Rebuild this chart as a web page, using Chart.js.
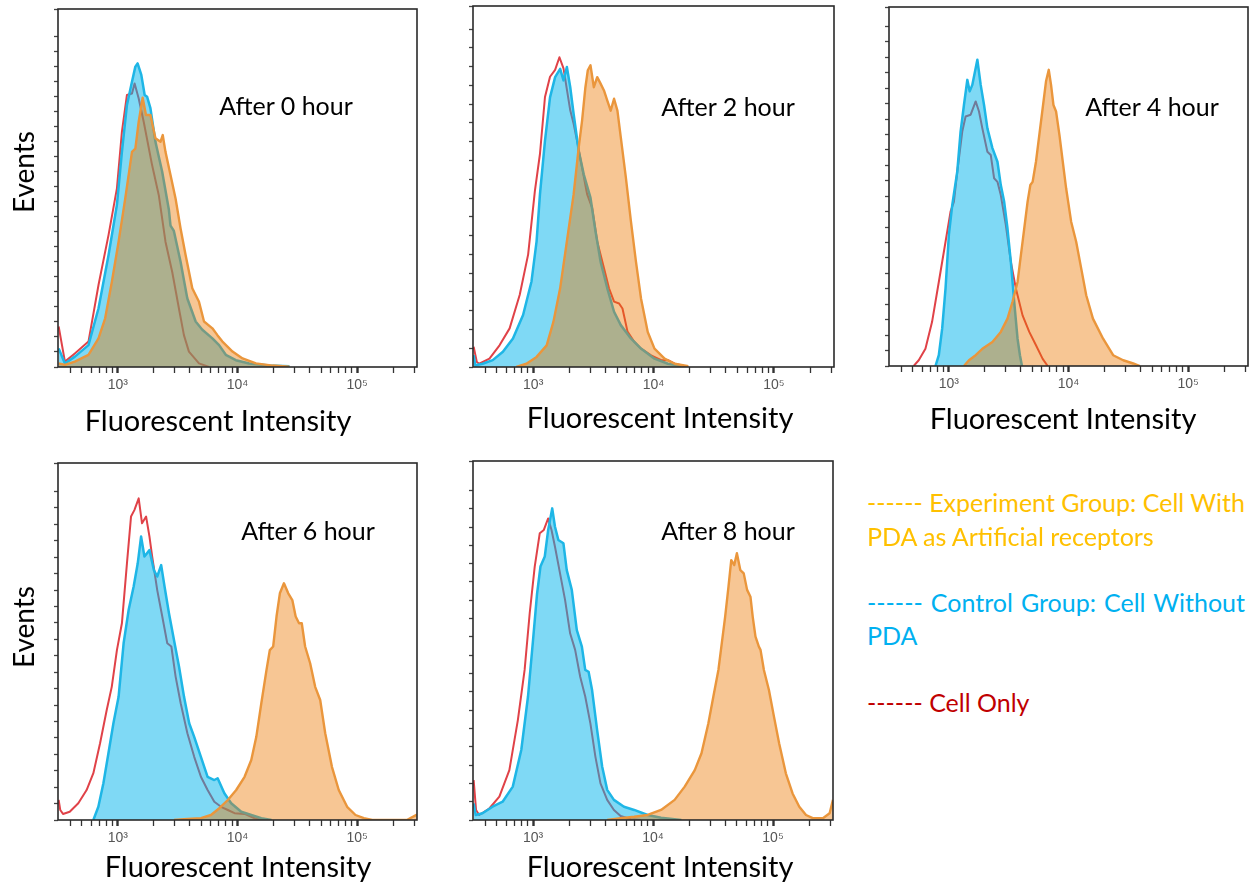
<!DOCTYPE html>
<html>
<head>
<meta charset="utf-8">
<script src="https://cdn.jsdelivr.net/npm/chart.js@4.4.1/dist/chart.umd.min.js"></script>
<style>
  body { margin: 0; background: #fff; }
  #page { position: relative; width: 1255px; height: 884px; overflow: hidden; font-family: Lato, "Open Sans", sans-serif; }
  #page canvas { position: absolute; }
  .lbl { position: absolute; white-space: nowrap; color: #000; line-height: 1; transform: translate(-50%, -50%); }
  .ev { transform: translate(-50%, -50%) rotate(-90deg); }
  .leg { position: absolute; white-space: nowrap; line-height: 1; font-size: 25px; }
  .just { text-align: justify; text-align-last: justify; }
</style>
</head>
<body>
<div id="page"></div>
<script>
// ---------- DATA (fluorescent intensity vs. events, % of axis height) ----------
const panelTitles = ["After 0 hour", "After 2 hour", "After 4 hour", "After 6 hour", "After 8 hour"];
const seriesNames = ["Experiment Group: Cell With PDA as Artificial receptors", "Control Group: Cell Without PDA", "Cell Only"];
const xMin = 316, xMax = 316228;
const xMajorTicks = [1000, 10000, 100000];
const xMajorLabels = ["10\u00b3", "10\u2074", "10\u2075"];
const xMinorTicks = [400, 500, 600, 700, 800, 900, 2000, 3000, 4000, 5000, 6000, 7000, 8000, 9000,
  20000, 30000, 40000, 50000, 60000, 70000, 80000, 90000, 200000, 300000];
const eventTickStep = [4.2, 5.2, 4.3, 4.6, 5.1];

// After 0 hour
const h0CellOnlyX = [320, 361, 437, 568, 689, 836, 982, 1081, 1191, 1312, 1380, 1493, 1644, 1932, 2198, 2500, 2844, 3236, 3565, 3926, 4764, 5781];
const h0CellOnlyY = [11.3, 1.5, 3.8, 7.1, 22.9, 36.9, 49.9, 65.7, 76, 76.4, 79.2, 75, 68.5, 56.4, 48, 35, 26.6, 16.4, 8.9, 4.3, 1, 0];
const h0ControlX = [320, 361, 437, 568, 689, 836, 982, 1081, 1191, 1312, 1400, 1462, 1570, 1675, 1754, 1871, 2061, 2344, 2667, 2754, 2938, 3342, 3802, 4467, 5082, 6166, 7015, 7980, 9683, 12531, 18450, 27164];
const h0ControlY = [5.2, 1, 2.9, 6.1, 16.4, 31.3, 45.3, 60.1, 73.2, 79.7, 83.9, 84.8, 81.6, 76, 75.5, 72.3, 62.9, 54.6, 44, 39.5, 38, 29.4, 19.2, 12.7, 10.4, 8, 6.1, 3.4, 1.9, 1, 0.4, 0.2];
const h0ExperimentX = [320, 361, 437, 568, 689, 783, 891, 1014, 1153, 1312, 1400, 1493, 1611, 1718, 1871, 2061, 2270, 2371, 2500, 2754, 3034, 3342, 3681, 4188, 4467, 4764, 5248, 6166, 6792, 7482, 9078, 11015, 14256, 19679, 27164];
const h0ExperimentY = [1, 0.6, 1.5, 3.4, 8, 13.6, 23.8, 35, 47.1, 60.1, 61, 68.5, 75.2, 70.4, 70.4, 63.9, 62.9, 64.8, 60.1, 53.6, 47.1, 38.7, 31.3, 22, 20.1, 18.2, 12.7, 10.8, 8.9, 7.1, 4.3, 2.4, 1, 0.4, 0.1];

// After 2 hour
const h2CellOnlyX = [320, 340, 356, 433, 525, 637, 773, 908, 1033, 1138, 1253, 1380, 1521, 1652, 1786, 2032, 2168, 2312, 2547, 2805, 3090, 3404, 3873, 4266, 4699, 5176, 5521, 6081, 6918, 7870, 9550, 11588, 13183, 14997, 19454];
const h2CellOnlyY = [5.6, 1.4, 0.9, 2.3, 6, 10.7, 20, 31.2, 48.8, 59, 74.8, 80.4, 82.3, 85.8, 82.7, 71.1, 67.4, 62.7, 55.3, 47.9, 44.1, 34.8, 27.4, 21.8, 18.1, 17.6, 16.2, 9.8, 7, 5.1, 3.2, 1.9, 1.9, 0.9, 0];
const h2ControlX = [320, 330, 380, 461, 560, 679, 824, 968, 1067, 1138, 1253, 1380, 1521, 1675, 1786, 1905, 2032, 2168, 2388, 2630, 2992, 3296, 3631, 4130, 4699, 5346, 6486, 7870, 10186, 13183, 17061];
const h2ControlY = [3.3, 0.5, 0.9, 1.9, 4.2, 7.9, 14.4, 23.7, 34.8, 47.8, 62.7, 74.7, 80.3, 82.6, 79.4, 83.1, 77.5, 70.1, 59.9, 53.4, 46.9, 37.6, 29.2, 21.8, 15.3, 11.6, 7.9, 5.1, 2.3, 0.9, 0.3];
const h2ExperimentX = [724, 879, 1067, 1294, 1472, 1675, 1905, 2168, 2388, 2547, 2716, 2844, 2992, 3192, 3404, 3631, 3873, 4130, 4406, 4699, 5012, 5346, 5888, 6486, 7145, 7870, 8954, 10186, 12359, 14997, 19454];
const h2ExperimentY = [0, 0.9, 2.8, 6, 12.5, 21.8, 34.8, 47.8, 60.8, 68.2, 77.5, 82.2, 83.6, 77.5, 80.3, 78.5, 76.6, 73.8, 71, 74.3, 71, 63.6, 52.5, 40.4, 29.2, 19, 9.7, 5.1, 2.3, 0.9, 0.2];

// After 4 hour
const h4CellOnlyX = [508, 560, 637, 724, 824, 938, 1033, 1102, 1175, 1294, 1380, 1521, 1675, 1786, 1905, 2099, 2239, 2388, 2547, 2716, 2992, 3296, 3631, 4130, 4699, 5346, 6081, 6699];
const h4CellOnlyY = [0, 1.6, 4.8, 12.3, 23.4, 34.6, 43, 45.8, 54.1, 65.3, 69.5, 70, 73.7, 70.9, 66.2, 59.7, 58.8, 52.3, 51.3, 47.6, 39.3, 29, 21.6, 14.1, 9.5, 5.8, 2, 0];
const h4ControlX = [773, 824, 879, 938, 1000, 1067, 1175, 1253, 1337, 1426, 1493, 1570, 1730, 1845, 1968, 2099, 2312, 2547, 2716, 2897, 3090, 3296, 3516, 3750, 3926, 4083];
const h4ControlY = [0, 3, 10.4, 21.6, 36.5, 44.8, 54.1, 65.3, 72.7, 79.7, 76.5, 78.3, 85.3, 78.3, 72.7, 66.2, 60.7, 56.9, 50.4, 45.8, 38.3, 29, 17.9, 7.6, 3, 0];
const h4ExperimentX = [1337, 1472, 1675, 1905, 2312, 2716, 3090, 3404, 3750, 3999, 4266, 4550, 4797, 5012, 5346, 5702, 6081, 6486, 6839, 7145, 7482, 7870, 8395, 8954, 9550, 10520, 11588, 12764, 14060, 15996, 19454, 23605, 28642, 34754, 39537];
const h4ExperimentY = [0, 1.6, 3, 4.8, 6.7, 9.5, 13.2, 17.9, 23.4, 30.9, 38.3, 45.8, 50.4, 51.3, 56.9, 64.4, 71.8, 79.3, 82.5, 78.3, 72.7, 70.9, 64.4, 56.9, 49.5, 40.2, 34.6, 27.2, 19.7, 13.2, 7.6, 3, 1.6, 0.7, 0];

// After 6 hour
const h6CellOnlyX = [320, 330, 348, 396, 467, 548, 624, 710, 807, 889, 982, 1081, 1191, 1288, 1374, 1493, 1592, 1722, 1837, 1936, 2133, 2350, 2588, 2799, 3041, 3350, 3811, 4345, 4943, 5623, 6397, 7278, 8299, 9441, 11455, 13900, 18030];
const h6CellOnlyY = [5.6, 2.8, 1.7, 2.3, 4.7, 8.4, 13.1, 21.5, 30.8, 37.3, 47.6, 55.1, 71.9, 85, 86.8, 90.1, 83.1, 85, 79.4, 73.8, 64.4, 57, 49.5, 48.6, 40.1, 32.7, 24.3, 17.7, 12.1, 8.4, 5.1, 3.7, 2.8, 1.9, 1.7, 0.5, 0];
const h6ControlX = [624, 687, 757, 834, 918, 1014, 1117, 1230, 1355, 1466, 1563, 1667, 1837, 2000, 2133, 2301, 2455, 2673, 2944, 3243, 3573, 3945, 4345, 4943, 5623, 6397, 6823, 7762, 8851, 10740, 13032, 15812, 19231];
const h6ControlY = [0, 3.7, 10.3, 18.7, 27.1, 34.5, 49.5, 58.8, 65.4, 71.9, 79.4, 73.8, 75.6, 70, 68.2, 71.4, 65.4, 57.9, 50.4, 43, 34.5, 27.1, 23.3, 17.7, 12.1, 11.2, 11.7, 7.5, 4.7, 2.3, 1.4, 0.5, 0];
const h6ExperimentX = [2944, 3811, 4943, 5998, 7047, 8299, 9750, 11455, 13032, 14355, 15812, 17458, 18621, 19860, 21184, 22594, 24434, 26546, 28708, 30620, 32659, 34435, 36728, 40458, 44566, 49091, 54075, 61518, 70146, 82414, 96828, 113763, 133660, 260000, 316000];
const h6ExperimentY = [0, 0.3, 0.5, 1.4, 3.3, 5.6, 8.4, 12.1, 16.8, 23.3, 32.7, 42, 47.6, 48.6, 57, 63.5, 66.3, 63.5, 61.6, 57, 55.1, 55.1, 48.6, 43.9, 37.3, 33.6, 24.3, 14.9, 8.4, 3.7, 1.4, 0.5, 0, 0, 1.5];

// After 8 hour
const h8CellOnlyX = [320, 335, 356, 432, 524, 635, 748, 851, 938, 1033, 1138, 1230, 1337, 1426, 1524, 1679, 1849, 2037, 2244, 2472, 2723, 3006, 3311, 3648, 4150, 4721, 5370, 6531, 7925];
const h8CellOnlyY = [11.1, 2.8, 1.4, 3.2, 6.5, 13.9, 27.9, 41.8, 57.6, 70.6, 79.9, 80.8, 84, 80.8, 76.1, 68.7, 61.3, 52, 47.4, 39.9, 34.4, 26.9, 17.6, 10.2, 5.6, 2.8, 1.1, 0.2, 0];
const h8ControlX = [320, 333, 379, 460, 558, 678, 798, 908, 1000, 1081, 1153, 1253, 1337, 1445, 1524, 1626, 1791, 1910, 2104, 2317, 2553, 2723, 2904, 3105, 3420, 3767, 4150, 4721, 5728, 6966, 9016, 11668, 17219];
const h8ControlY = [4.6, 1.4, 1.9, 3.7, 5.1, 9.3, 19.5, 34.4, 50.1, 63.1, 70.6, 73.4, 80.8, 86.8, 81.7, 78, 77.1, 69.6, 64.1, 52.9, 48.3, 41.8, 41.3, 36.2, 25.1, 14.9, 8.4, 5.6, 3.7, 2.8, 1.4, 0.6, 0];
const h8ExperimentX = [4150, 5370, 6966, 9016, 11668, 15136, 18365, 22284, 25351, 28907, 31842, 35075, 37411, 39902, 42560, 44875, 47534, 50003, 53456, 57016, 60814, 64863, 67764, 71450, 76208, 78705, 83946, 92470, 101859, 112460, 127938, 145546, 165577, 188365, 214289, 260615, 296483, 316000];
const h8ExperimentY = [0, 0.5, 0.9, 1.4, 2.8, 5.6, 9.3, 13.9, 18.6, 26.9, 34.4, 41.8, 49.2, 56.6, 65, 72.4, 71, 74.3, 69.6, 68.7, 64.1, 62.2, 56.6, 51.1, 48.3, 47.4, 41.8, 36.2, 28.8, 21.4, 13, 7.4, 3.7, 1.4, 0.5, 0.5, 1.9, 5.6];

// ---------- LAYOUT / STYLE ----------
const panelData = [
  [h0ExperimentX, h0ExperimentY, h0ControlX, h0ControlY, h0CellOnlyX, h0CellOnlyY],
  [h2ExperimentX, h2ExperimentY, h2ControlX, h2ControlY, h2CellOnlyX, h2CellOnlyY],
  [h4ExperimentX, h4ExperimentY, h4ControlX, h4ControlY, h4CellOnlyX, h4CellOnlyY],
  [h6ExperimentX, h6ExperimentY, h6ControlX, h6ControlY, h6CellOnlyX, h6CellOnlyY],
  [h8ExperimentX, h8ExperimentY, h8ControlX, h8ControlY, h8CellOnlyX, h8CellOnlyY]
];
const panelBoxes = [
  { left: 58, top: 9, w: 359, h: 358, title: [286, 105], xTitle: [218, 419] },
  { left: 473, top: 6, w: 361, h: 361, title: [728, 106], xTitle: [660, 416] },
  { left: 889, top: 7, w: 359, h: 359, title: [1152, 106], xTitle: [1063, 417] },
  { left: 58, top: 463, w: 359, h: 357, title: [308, 530], xTitle: [238, 865] },
  { left: 473, top: 461, w: 360, h: 359, title: [728, 530], xTitle: [660, 865] }
];
const eventsLabelPos = [[23, 172], [23, 627]];
const styles = [
  { line: "rgb(234,150,60)", fill: "rgba(235,120,0,0.42)", width: 2.4 },
  { line: "rgb(30,182,230)", fill: "rgba(0,180,235,0.5)", width: 2.5 },
  { line: "rgb(224,66,72)", fill: null, width: 2 }
];

const xTickValues = xMinorTicks.concat(xMajorTicks).sort((a, b) => a - b);
const majorLabelOf = v => { const i = xMajorTicks.indexOf(v); return i >= 0 ? xMajorLabels[i] : ""; };

const framePlugin = {
  id: "frame",
  afterDatasetsDraw(chart) {
    const { ctx, chartArea: a } = chart;
    ctx.save();
    ctx.strokeStyle = "#2a2a2a";
    ctx.lineWidth = 1.6;
    ctx.strokeRect(a.left, a.top, a.right - a.left, a.bottom - a.top);
    ctx.restore();
  }
};

const page = document.getElementById("page");
const PADL = 30, PADT = 6, PADR = 6, PADB = 36;

panelBoxes.forEach((box, p) => {
  const cv = document.createElement("canvas");
  cv.width = box.w + PADL + PADR;
  cv.height = box.h + PADT + PADB;
  cv.style.left = (box.left - PADL) + "px";
  cv.style.top = (box.top - PADT) + "px";
  page.appendChild(cv);

  const d = panelData[p];
  const datasets = [0, 1, 2].map(s => ({
    label: seriesNames[s],
    data: d[2 * s].map((x, i) => ({ x: x, y: d[2 * s + 1][i] })),
    borderColor: styles[s].line,
    backgroundColor: styles[s].fill || "rgba(0,0,0,0)",
    borderWidth: styles[s].width,
    fill: styles[s].fill ? "origin" : false,
    pointRadius: 0,
    tension: 0,
    borderJoinStyle: "round"
  }));

  new Chart(cv, {
    type: "line",
    data: { datasets },
    options: {
      responsive: false,
      animation: false,
      devicePixelRatio: 1,
      events: [],
      layout: { padding: { left: 0, top: PADT, right: PADR, bottom: 0 } },
      plugins: { legend: { display: false }, tooltip: { enabled: false } },
      scales: {
        x: {
          type: "logarithmic",
          min: xMin, max: xMax,
          afterBuildTicks: s => { s.ticks = xTickValues.map(v => ({ value: v })); },
          afterFit: s => { s.height = PADB; },
          ticks: {
            autoSkip: false, maxRotation: 0, minRotation: 0, padding: 4,
            color: "#555",
            font: { family: "'Liberation Sans', Arial, sans-serif", size: 14 },
            callback: v => majorLabelOf(v)
          },
          grid: {
            drawOnChartArea: false, drawTicks: true, tickLength: 6,
            color: "#333",
            tickWidth: c => (c.tick && xMajorTicks.indexOf(c.tick.value) >= 0) ? 2.4 : 1.3
          },
          border: { display: false }
        },
        y: {
          type: "linear", min: 0, max: 100,
          afterFit: s => { s.width = PADL; },
          ticks: { display: false, stepSize: eventTickStep[p] },
          grid: { drawOnChartArea: false, drawTicks: true, tickLength: 4, color: "#444", tickWidth: 1.3 },
          border: { display: false }
        }
      }
    },
    plugins: [framePlugin]
  });

  const t = document.createElement("div");
  t.className = "lbl";
  t.style.left = box.title[0] + "px";
  t.style.top = box.title[1] + "px";
  t.style.fontSize = "25px";
  t.textContent = panelTitles[p];
  page.appendChild(t);

  const xt = document.createElement("div");
  xt.className = "lbl";
  xt.style.left = box.xTitle[0] + "px";
  xt.style.top = box.xTitle[1] + "px";
  xt.style.fontSize = "29px";
  xt.textContent = "Fluorescent Intensity";
  page.appendChild(xt);
});

eventsLabelPos.forEach(pos => {
  const e = document.createElement("div");
  e.className = "lbl ev";
  e.style.left = pos[0] + "px";
  e.style.top = pos[1] + "px";
  e.style.fontSize = "28px";
  e.textContent = "Events";
  page.appendChild(e);
});

const legendLines = [
  { text: "------ Experiment Group: Cell With", color: "#FFC000", y: 503, just: true },
  { text: "PDA as Artificial receptors", color: "#FFC000", y: 537, just: false },
  { text: "------ Control Group: Cell Without", color: "#00B0F0", y: 603, just: true },
  { text: "PDA", color: "#00B0F0", y: 636, just: false },
  { text: "------ Cell Only", color: "#C00000", y: 703, just: false }
];
legendLines.forEach(l => {
  const el = document.createElement("div");
  el.className = "leg" + (l.just ? " just" : "");
  el.style.left = "867px";
  el.style.top = (l.y - 13) + "px";
  el.style.color = l.color;
  if (l.just) el.style.width = "378px";
  el.textContent = l.text;
  page.appendChild(el);
});
</script>
</body>
</html>
